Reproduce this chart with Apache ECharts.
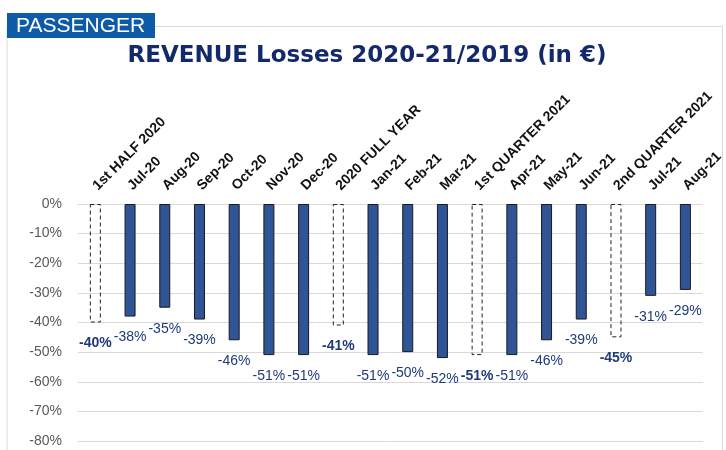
<!DOCTYPE html>
<html>
<head>
<meta charset="utf-8">
<script src="https://cdn.jsdelivr.net/npm/echarts@6/dist/echarts.min.js"></script>
<style>
  html, body { margin: 0; padding: 0; background: #fff; }
  #chart { width: 726px; height: 450px; }
</style>
</head>
<body>
<div id="chart"></div>
<script>
// categories (monthly + period summaries)
const categories = ['1st HALF 2020', 'Jul-20', 'Aug-20', 'Sep-20', 'Oct-20', 'Nov-20', 'Dec-20',
  '2020 FULL YEAR', 'Jan-21', 'Feb-21', 'Mar-21', '1st QUARTER 2021', 'Apr-21', 'May-21', 'Jun-21',
  '2nd QUARTER 2021', 'Jul-21', 'Aug-21'];
// revenue change vs 2019, in %
const lossValues = [-40, -38, -35, -39, -46, -51, -51, -41, -51, -50, -52, -51, -51, -46, -39, -45, -31, -29];
// period totals drawn as hollow dashed bars
const summaryCats = ['1st HALF 2020', '2020 FULL YEAR', '1st QUARTER 2021', '2nd QUARTER 2021'];
const yTicks = { min: -80, max: 0, step: 10 };

const chart = echarts.init(document.getElementById('chart'));

const seriesData = lossValues.map((v, i) => {
  const isSum = summaryCats.indexOf(categories[i]) >= 0;
  return {
    value: v,
    itemStyle: isSum
      ? { color: 'rgba(255,255,255,0)', borderColor: '#222', borderWidth: 1, borderType: [4, 3] }
      : { color: '#2f5597', borderColor: '#1a1a1a', borderWidth: 1 },
    label: { fontWeight: isSum ? 'bold' : 'normal' }
  };
});

chart.setOption({
  animation: false,
  title: {
    text: 'REVENUE Losses 2020-21/2019 (in €)',
    left: 362,
    top: 40,
    textAlign: 'center',
    textStyle: {
      fontFamily: 'DejaVu Sans',
      fontSize: 23,
      fontWeight: 'bold',
      color: '#13296b'
    }
  },
  graphic: [
    { // chart frame
      type: 'polyline',
      z: 1,
      shape: { points: [[7, 450], [7, 26.5], [722.5, 26.5], [722.5, 450]] },
      style: { stroke: '#d9d9d9', fill: null, lineWidth: 1 }
    },
    {
      type: 'rect',
      z: 2,
      shape: { x: 7, y: 13, width: 148, height: 25 },
      style: { fill: '#0d5ba6' }
    },
    {
      type: 'text',
      z: 3,
      x: 16,
      y: 26,
      style: {
        text: 'PASSENGER',
        fill: '#fff',
        font: '21px "Liberation Sans"',
        verticalAlign: 'middle'
      }
    }
  ],
  grid: { left: 78, right: 23, top: 204, bottom: 9 },
  xAxis: {
    type: 'category',
    position: 'top',
    data: categories,
    axisLine: { show: false },
    axisTick: { show: false },
    axisLabel: {
      interval: 0,
      rotate: 45,
      margin: 16,
      color: '#111',
      fontFamily: 'Liberation Sans',
      fontWeight: 'bold',
      fontSize: 14
    }
  },
  yAxis: {
    type: 'value',
    min: yTicks.min,
    max: yTicks.max,
    interval: yTicks.step,
    axisLine: { show: false },
    axisTick: { show: false },
    axisLabel: {
      formatter: '{value}%',
      margin: 16,
      color: '#595959',
      fontFamily: 'Liberation Sans',
      fontSize: 14
    },
    splitLine: { lineStyle: { color: '#d9d9d9', width: 1 } }
  },
  series: [
    {
      type: 'bar',
      data: seriesData,
      barWidth: 11,
      label: {
        show: true,
        position: 'bottom',
        distance: 14,
        formatter: p => p.value + '%',
        color: '#1f3a7a',
        fontFamily: 'Liberation Sans',
        fontSize: 14
      }
    }
  ]
});
</script>
</body>
</html>
